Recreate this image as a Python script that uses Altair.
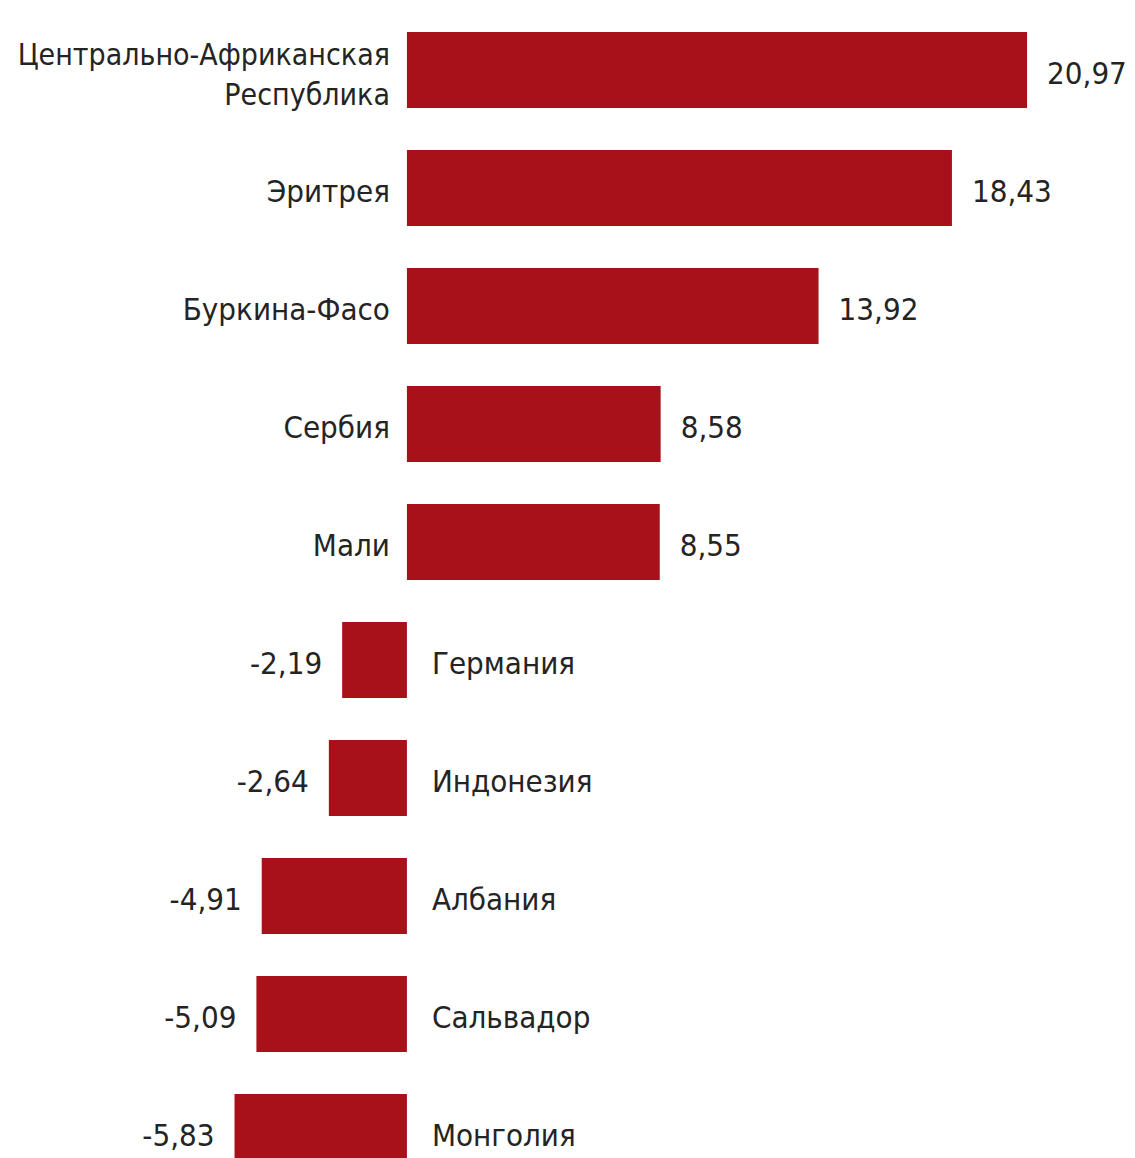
import altair as alt
import pandas as pd

countries = [
    "Центрально-Африканская\nРеспублика",
    "Эритрея",
    "Буркина-Фасо",
    "Сербия",
    "Мали",
    "Германия",
    "Индонезия",
    "Албания",
    "Сальвадор",
    "Монголия",
]
values = [20.97, 18.43, 13.92, 8.58, 8.55, -2.19, -2.64, -4.91, -5.09, -5.83]
value_labels = ["20,97", "18,43", "13,92", "8,58", "8,55", "-2,19", "-2,64", "-4,91", "-5,09", "-5,83"]

df = pd.DataFrame({"country": countries, "value": values, "label": value_labels})
df["zero"] = 0.0

FONT = "Liberation Sans Narrow, DejaVu Sans Condensed, Roboto Condensed, Noto Sans"
FS = 31
TXT = "#242424"
BAR = "#A8101A"
DY = 5

y = alt.Y("country:N", sort=countries, axis=None,
          scale=alt.Scale(paddingInner=0.356, paddingOuter=0.178))
xs = alt.Scale(domain=[-13.49, 24.35], nice=False, zero=False)
xv = alt.X("value:Q", scale=xs, axis=None)
xz = alt.X("zero:Q", scale=xs, axis=None)

base = alt.Chart(df)

bars = base.mark_bar(color=BAR).encode(x=xv, x2="zero:Q", y=y)

multi = "indexof(datum.country, '\\n') >= 0"
pos1 = base.transform_filter(f"datum.value > 0 && !({multi})")
pos2 = base.transform_filter(f"datum.value > 0 && ({multi})")
pos = base.transform_filter("datum.value > 0")
neg = base.transform_filter("datum.value < 0")

tkw = dict(font=FONT, color=TXT, baseline="middle")

pos_names = pos1.mark_text(align="right", dx=-17, dy=DY, fontSize=FS, **tkw).encode(
    x=xz, y=y, text="country:N")
pos_names2 = pos2.mark_text(align="right", dx=-17, dy=-14, fontSize=30,
                            lineBreak="\n", lineHeight=40, **tkw).encode(
    x=xz, y=y, text="country:N")
pos_vals = pos.mark_text(align="left", dx=20, dy=DY, fontSize=FS, **tkw).encode(
    x=xv, y=y, text="label:N")
neg_names = neg.mark_text(align="left", dx=25, dy=DY, fontSize=FS, **tkw).encode(
    x=xz, y=y, text="country:N")
neg_vals = neg.mark_text(align="right", dx=-20, dy=DY, fontSize=FS, **tkw).encode(
    x=xv, y=y, text="label:N")

chart = alt.layer(bars, pos_names, pos_names2, pos_vals, neg_names, neg_vals).properties(
    width=1119, height=1180,
    padding={"left": 0, "right": 0, "top": 3, "bottom": 0},
    autosize=alt.AutoSizeParams(type="none"),
).configure_view(stroke=None)

chart.save("out.html", embed_options={"renderer": "svg", "actions": False})
